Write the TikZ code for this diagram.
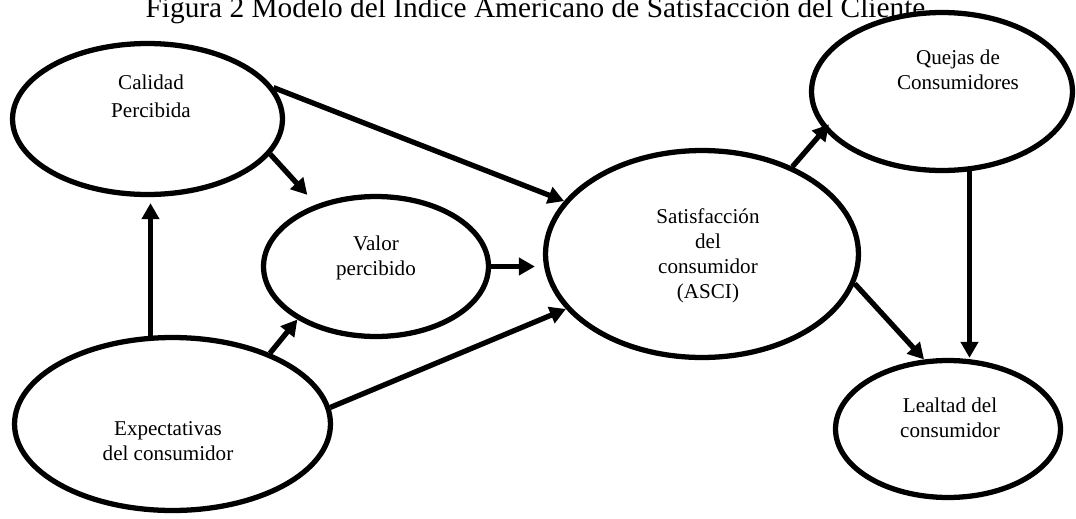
\documentclass[tikz,border=0pt]{standalone}
\usepackage{fontspec}
\setmainfont{Liberation Serif}
\usetikzlibrary{arrows.meta,shapes.geometric}
\tikzset{
  font=\fontsize{12}{14.2}\selectfont,
  arrow/.style={-{Triangle[length=3.2mm,width=3.4mm]},draw=black,line width=3pt},
  oval/.style={ellipse,draw=black,line width=3pt,fill=white,inner sep=0pt},
  txt/.style={align=center,inner sep=0pt},
  title/.style={font=\fontsize{16.7}{20}\selectfont,inner sep=0pt},
}

\begin{document}
\begin{tikzpicture}[x=0.02cm,y=-0.02cm]

\useasboundingbox (0,0) rectangle (1076,518);

\node[title,anchor=base] (ttl) at (535.5,17) {Figura 2  Modelo del Índice Americano de Satisfacción del Cliente};

\node[oval,minimum width=5.40cm,minimum height=3.02cm] (cal) at (147.5,119) {};
\node[oval,minimum width=6.32cm,minimum height=3.46cm] (exp) at (172.5,424) {};
\node[oval,minimum width=4.50cm,minimum height=2.80cm] (val) at (376,266.5) {};
\node[oval,minimum width=6.26cm,minimum height=4.14cm] (sat) at (702,254) {};
\node[oval,minimum width=5.22cm,minimum height=3.16cm] (que) at (942,91.5) {};
\node[oval,minimum width=4.50cm,minimum height=2.74cm] (lea) at (948,429) {};

\node[txt] (calT) at (151,96)  {Calidad\\[1.5pt]Percibida};
\node[txt] (expT) at (168,441) {Expectativas\\del consumidor};
\node[txt] (valT) at (376,258) {Valor\\percibido};
\node[txt] (satT) at (708,256) {Satisfacción\\del\\consumidor\\(ASCI)};
\node[txt] (queT) at (958,70)  {Quejas de\\Consumidores};
\node[txt] (leaT) at (950,418) {Lealtad del\\consumidor};

\draw[arrow] (cal.14) -- (sat.159);
\draw[arrow,shorten >=0.26cm] (cal.-16) -- (val.134);
\draw[arrow,shorten >=0.12cm] (exp.104) -- (exp.104 |- cal.south);
\draw[arrow] (exp.36) -- (val.-146);
\draw[arrow] (exp.6) -- (sat.202);
\draw[arrow,shorten >=0.16cm] (val.east) -- (val.east -| sat.west);
\draw[arrow,shorten >=-0.14cm] (sat.44) -- (que.198);
\draw[arrow] (sat.-11) -- (lea.109);
\draw[arrow] (que.-71) -- (que.-71 |- lea.north);

\end{tikzpicture}
\end{document}
